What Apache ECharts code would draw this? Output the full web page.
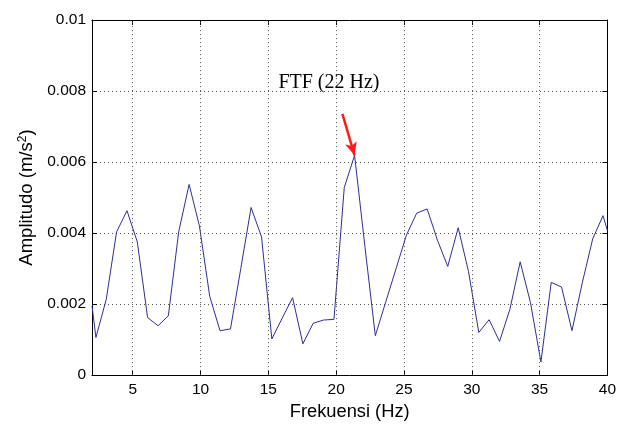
<!DOCTYPE html>
<html>
<head>
<meta charset="utf-8">
<script src="https://cdn.jsdelivr.net/npm/echarts@6/dist/echarts.min.js"></script>
<style>html,body{margin:0;padding:0;background:#fff}#c{width:619px;height:426px}</style>
</head>
<body>
<div id="c"></div>
<script>
var freq = [2.00, 2.29, 3.05, 3.81, 4.58, 5.34, 6.10, 6.87, 7.63, 8.39, 9.16, 9.92, 10.68, 11.44, 12.21, 12.97, 13.73, 14.50, 15.26, 16.02, 16.79, 17.55, 18.31, 19.07, 19.84, 20.60, 21.36, 22.13, 22.89, 23.65, 24.42, 25.18, 25.94, 26.71, 27.47, 28.23, 29.00, 29.76, 30.52, 31.28, 32.05, 32.81, 33.57, 34.33, 35.10, 35.86, 36.62, 37.39, 38.15, 38.92, 39.68, 40.00];
var amp = [0.00195, 0.00106, 0.00213, 0.00403, 0.00463, 0.00375, 0.00162, 0.00139, 0.00167, 0.00403, 0.00537, 0.00420, 0.00222, 0.00125, 0.00130, 0.00300, 0.00472, 0.00389, 0.00102, 0.00160, 0.00218, 0.00088, 0.00146, 0.00155, 0.00157, 0.00528, 0.00619, 0.00360, 0.00111, 0.00205, 0.00300, 0.00394, 0.00456, 0.00468, 0.00380, 0.00306, 0.00415, 0.00292, 0.00120, 0.00156, 0.00095, 0.00185, 0.00319, 0.00204, 0.00037, 0.00261, 0.00248, 0.00125, 0.00260, 0.00384, 0.00449, 0.00407];
var xTicks = [5, 10, 15, 20, 25, 30, 35, 40];
var yTicks = [0, 0.002, 0.004, 0.006, 0.008, 0.01];
var annotText = 'FTF (22 Hz)';
var annotPos = [19.47, 0.00823];
var arrowFrom = [20.46, 0.00736];
var arrowTo = [21.36, 0.00619];

var pts = freq.map(function (f, i) { return [f, amp[i]]; });
var chart = echarts.init(document.getElementById('c'), null, {renderer: 'canvas'});
var font = 'Liberation Sans, Arial, sans-serif';
var dotted = {color: '#555', type: [1, 3], width: 1};
function yLab(v) { var r = Math.round(v * 1000) / 1000; return String(r); }
chart.setOption({
  animation: false,
  backgroundColor: '#fff',
  grid: {left: 92, top: 20, right: 11, bottom: 46, containLabel: false},
  xAxis: [{
    type: 'value', min: 2, max: 40, interval: 1,
    position: 'bottom',
    axisLine: {show: true, onZero: false, lineStyle: {color: '#000', width: 1}},
    axisTick: {show: true, inside: true, length: 5, lineStyle: {color: '#000'}, customValues: xTicks},
    axisLabel: {color: '#000', fontFamily: font, fontSize: 15.5, margin: 7, customValues: xTicks},
    splitLine: {show: false},
    name: 'Frekuensi (Hz)', nameLocation: 'middle', nameGap: 22,
    nameTextStyle: {color: '#000', fontFamily: font, fontSize: 18.3}
  }, {
    type: 'value', min: 2, max: 40, interval: 1, position: 'top',
    axisLine: {show: true, onZero: false, lineStyle: {color: '#000', width: 1}},
    axisTick: {show: true, inside: true, length: 5, lineStyle: {color: '#000'}, customValues: xTicks},
    axisLabel: {show: false},
    splitLine: {show: false}
  }],
  yAxis: [{
    type: 'value', min: 0, max: 0.01, interval: 0.002,
    position: 'left',
    axisLine: {show: true, onZero: false, lineStyle: {color: '#000', width: 1}},
    axisTick: {show: true, inside: true, length: 5, lineStyle: {color: '#000'}},
    axisLabel: {color: '#000', fontFamily: font, fontSize: 15.5, margin: 6, formatter: yLab},
    splitLine: {show: true, lineStyle: dotted},
    name: 'Amplitudo (m/s{sup|2})', nameLocation: 'middle', nameGap: 54,
    nameTextStyle: {color: '#000', fontFamily: font, fontSize: 18.5,
      rich: {sup: {fontSize: 12, verticalAlign: 'top', padding: [0, 0, 9, 0], fontFamily: font, color: '#000'}}}
  }, {
    type: 'value', min: 0, max: 0.01, interval: 0.002, position: 'right',
    axisLine: {show: true, onZero: false, lineStyle: {color: '#000', width: 1}},
    axisTick: {show: true, inside: true, length: 5, lineStyle: {color: '#000'}},
    axisLabel: {show: false},
    splitLine: {show: false}
  }],
  series: [{
    type: 'line', xAxisIndex: 0, yAxisIndex: 0, data: [], silent: true, z: 1,
    markLine: {
      silent: true, symbol: ['none', 'none'], animation: false,
      lineStyle: dotted, label: {show: false},
      data: xTicks.slice(0, -1).map(function (v) { return {xAxis: v}; })
    }
  }, {
    type: 'line', xAxisIndex: 0, yAxisIndex: 0, z: 3,
    data: pts, symbol: 'none', clip: true,
    lineStyle: {color: '#2e2e96', width: 1},
    markLine: {
      silent: true, symbol: ['none', 'arrow'], symbolSize: [9, 13],
      lineStyle: {color: '#ff1a1a', width: 2.5, type: 'solid'},
      label: {show: false},
      data: [[{coord: arrowFrom}, {coord: arrowTo}]]
    },
    markPoint: {
      silent: true, symbol: 'circle', symbolSize: 0,
      label: {show: true, position: 'inside', formatter: annotText, color: '#000',
        fontFamily: 'Liberation Serif, Times New Roman, serif', fontSize: 20},
      data: [{coord: annotPos}]
    }
  }]
});
</script>
</body>
</html>
